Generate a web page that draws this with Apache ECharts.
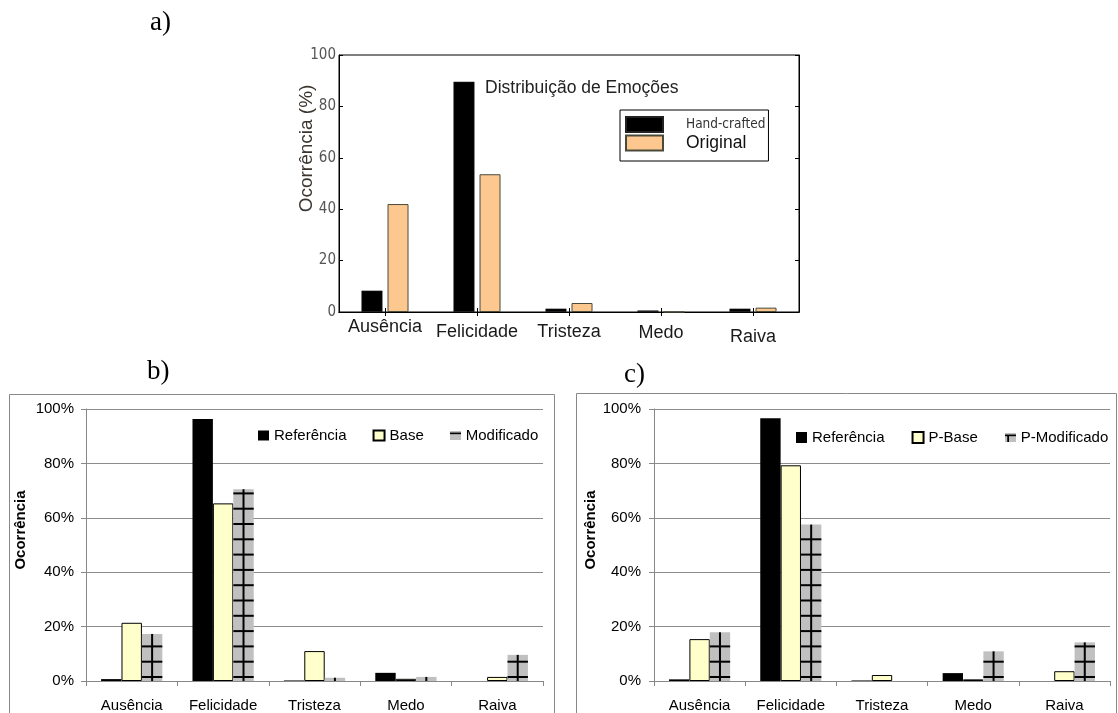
<!DOCTYPE html>
<html><head><meta charset="utf-8">
<script src="https://cdn.jsdelivr.net/npm/echarts@6/dist/echarts.min.js"></script>
<style>html,body{margin:0;padding:0;background:#fff}#c{width:1118px;height:713px}</style>
</head><body><div id="c"></div>
<script>
// ---- data ----
const categories = ['Ausência', 'Felicidade', 'Tristeza', 'Medo', 'Raiva'];
const aLabelShift = [0, 5, 5, 6, 10];
const aHandCrafted = [8.3, 89.6, 1.3, 0.6, 1.3];
const aOriginal = [42.0, 53.6, 3.5, 0, 1.7];
const bReferencia = [0.7, 96.3, 0.2, 3.0, 0];
const bBase = [21.4, 65.3, 11.0, 0.8, 1.5];
const bModificado = [17.3, 70.5, 1.2, 1.5, 9.6];
const cReferencia = [0.6, 96.6, 0.2, 2.9, 0];
const cPBase = [15.4, 79.3, 2.2, 0.6, 3.6];
const cPModificado = [17.9, 57.5, 0, 10.9, 14.2];
const yMin = 0, yMax = 100, yStep = 20;

const SANS = "'Liberation Sans', Arial, sans-serif";
const NARROW = "'Liberation Sans Narrow', 'DejaVu Sans Condensed', 'Liberation Sans', sans-serif";
const SERIF = "'Liberation Serif', 'Times New Roman', serif";
const GAP = 0.33;

function hatchIcon(withVertical) {
  const cv = document.createElement('canvas');
  cv.width = 13; cv.height = 11;
  const g = cv.getContext('2d');
  g.fillStyle = '#c0c0c0'; g.fillRect(0, 0, 13, 11);
  g.fillStyle = '#000';
  g.fillRect(0, 2, 13, 2);
  if (withVertical) g.fillRect(3, 2, 2, 9);
  return 'image://' + cv.toDataURL();
}

function hatchSeries(vals, xi, yi) {
  return {
    type: 'custom', xAxisIndex: xi, yAxisIndex: yi, silent: true, z: 5,
    data: vals.map((v, i) => [i, v]),
    renderItem: function (params, api) {
      const idx = api.value(0), v = api.value(1);
      const top = api.coord([idx, v]);
      const base = api.coord([idx, 0]);
      const band = api.size([1, 0])[0];
      const bw = band * (1 - GAP) / 3;
      const x0 = top[0] + bw / 2, x1 = top[0] + 1.5 * bw, xc = top[0] + bw;
      const ch = [];
      if (base[1] - top[1] < 0.5) return { type: 'group', children: [] };
      ch.push({ type: 'line', shape: { x1: xc, y1: top[1], x2: xc, y2: base[1] }, style: { stroke: '#000', lineWidth: 2 } });
      for (let y = base[1] - 4; y > top[1] + 1; y -= 15.3) {
        ch.push({ type: 'line', shape: { x1: x0, y1: y, x2: x1, y2: y }, style: { stroke: '#000', lineWidth: 2 } });
      }
      return { type: 'group', children: ch };
    }
  };
}

function catAxis(gi) {
  return {
    type: 'category', gridIndex: gi, data: categories,
    axisLine: { show: true, lineStyle: { color: '#888', width: 1 } },
    axisTick: { show: true, length: 5, lineStyle: { color: '#888' } },
    axisLabel: { interval: 0, fontFamily: SANS, fontSize: 15, color: '#000', margin: 17 }
  };
}
function pctAxis(gi, nameGap, labelMargin) {
  return {
    type: 'value', gridIndex: gi, min: yMin, max: yMax, interval: yStep,
    name: 'Ocorrência', nameLocation: 'middle', nameGap: nameGap,
    nameTextStyle: { fontFamily: SANS, fontSize: 15, fontWeight: 'bold', color: '#000', padding: [0, 0, 0, 30] },
    axisLine: { show: true, lineStyle: { color: '#888' } },
    axisTick: { show: true, length: 5, lineStyle: { color: '#888' } },
    axisLabel: { formatter: '{value}%', fontFamily: SANS, fontSize: 15, color: '#000', margin: labelMargin },
    splitLine: { show: true, lineStyle: { color: '#8c8c8c', width: 1 } }
  };
}

const option = {
  animation: false,
  backgroundColor: '#fff',
  title: [
    { text: 'a)', left: 150, top: 9, padding: 0, textStyle: { fontFamily: SERIF, fontSize: 27, fontWeight: 'normal', color: '#000' } },
    { text: 'b)', left: 147, top: 358, padding: 0, textStyle: { fontFamily: SERIF, fontSize: 27, fontWeight: 'normal', color: '#000' } },
    { text: 'c)', left: 624, top: 361, padding: 0, textStyle: { fontFamily: SERIF, fontSize: 27, fontWeight: 'normal', color: '#000' } },
    { text: 'Distribuição de Emoções', left: 485, top: 79, padding: 0, textStyle: { fontFamily: SANS, fontSize: 17.5, fontWeight: 'normal', color: '#222' } }
  ],
  graphic: [
    { type: 'rect', shape: { x: 9.5, y: 394.5, width: 545, height: 340 }, style: { fill: 'none', stroke: '#888', lineWidth: 1 }, silent: true },
    { type: 'rect', shape: { x: 576.5, y: 393.5, width: 540, height: 340 }, style: { fill: 'none', stroke: '#888', lineWidth: 1 }, silent: true }
  ],
  legend: [
    {
      orient: 'vertical', left: 620, top: 110, itemWidth: 37, itemHeight: 15, itemGap: 1, icon: 'rect',
      borderColor: '#000', borderWidth: 1, padding: [6, 3, 9, 5],
      textStyle: { padding: [0, 0, 0, 18], fontFamily: SANS, color: '#111' },
      data: [
        { name: 'Hand-crafted', textStyle: { fontFamily: NARROW, fontSize: 13.5, color: '#333' } },
        { name: 'Original', textStyle: { fontFamily: SANS, fontSize: 17.5, color: '#111' } }
      ]
    },
    {
      orient: 'horizontal', left: 258, top: 428, width: 320, padding: 0, itemWidth: 11, itemHeight: 10, itemGap: 26, icon: 'rect',
      textStyle: { fontFamily: SANS, fontSize: 15, color: '#000' },
      data: ['Referência', 'Base', { name: 'Modificado', icon: hatchIcon(false) }]
    },
    {
      orient: 'horizontal', left: 796, top: 430, width: 330, padding: 0, itemWidth: 11, itemHeight: 11, itemGap: 27, icon: 'rect',
      textStyle: { fontFamily: SANS, fontSize: 15, color: '#000' },
      data: ['Referência', 'P-Base', { name: 'P-Modificado', icon: hatchIcon(true) }]
    }
  ],
  grid: [
    { left: 339, top: 55, width: 460, height: 257, show: true, borderColor: '#000', borderWidth: 1 },
    { left: 86, top: 409, width: 457, height: 272 },
    { left: 654, top: 409, width: 456, height: 272 }
  ],
  xAxis: [
    {
      type: 'category', gridIndex: 0,
      data: categories.map((c, i) => ({ value: c, textStyle: { padding: [aLabelShift[i], 0, 0, 0] } })),
      axisLine: { show: true, lineStyle: { color: '#000' } },
      axisTick: { show: true, inside: true, alignWithLabel: true, length: 4, lineStyle: { color: '#000' } },
      axisLabel: { interval: 0, fontFamily: SANS, fontSize: 18, color: '#1a1a1a', margin: 6 }
    },
    {
      type: 'category', gridIndex: 0, position: 'top', data: categories,
      axisLine: { show: true, lineStyle: { color: '#000' } },
      axisTick: { show: true, inside: true, alignWithLabel: true, interval: 0, length: 4, lineStyle: { color: '#000' } },
      axisLabel: { show: false }
    },
    catAxis(1),
    catAxis(2)
  ],
  yAxis: [
    {
      type: 'value', gridIndex: 0, min: yMin, max: yMax, interval: yStep,
      name: 'Ocorrência (%)', nameLocation: 'middle', nameGap: 23, nameMoveOverlap: false,
      nameTextStyle: { fontFamily: SANS, fontSize: 19, color: '#3b3530', padding: [0, 0, 0, 70] },
      axisLine: { show: true, lineStyle: { color: '#000' } },
      axisTick: { show: true, inside: true, length: 4, lineStyle: { color: '#000' } },
      axisLabel: { fontFamily: NARROW, fontSize: 15, color: '#555', margin: 3 },
      splitLine: { show: false }
    },
    {
      type: 'value', gridIndex: 0, position: 'right', min: yMin, max: yMax, interval: yStep,
      axisLine: { show: true, lineStyle: { color: '#000' } },
      axisTick: { show: true, inside: true, length: 4, lineStyle: { color: '#000' } },
      axisLabel: { show: false }, splitLine: { show: false }
    },
    pctAxis(1, 58, 12),
    pctAxis(2, 55, 13)
  ],
  series: [
    { name: 'Hand-crafted', type: 'bar', xAxisIndex: 0, yAxisIndex: 0, data: aHandCrafted, barWidth: 21, barGap: '24%',
      itemStyle: { color: '#000', borderColor: '#222', borderWidth: 0.5 } },
    { name: 'Original', type: 'bar', xAxisIndex: 0, yAxisIndex: 0, data: aOriginal, barWidth: 21,
      itemStyle: { color: '#fdc790', borderColor: '#4a4a3a', borderWidth: 1 } },

    { name: 'Referência', type: 'bar', xAxisIndex: 2, yAxisIndex: 2, data: bReferencia, barGap: 0, barCategoryGap: (GAP * 100) + '%',
      itemStyle: { color: '#000' } },
    { name: 'Base', type: 'bar', xAxisIndex: 2, yAxisIndex: 2, data: bBase,
      itemStyle: { color: '#ffffcc', borderColor: '#000', borderWidth: 1 } },
    { name: 'Modificado', type: 'bar', xAxisIndex: 2, yAxisIndex: 2, data: bModificado,
      itemStyle: { color: '#c0c0c0' } },
    hatchSeries(bModificado, 2, 2),

    { name: 'Referência', type: 'bar', xAxisIndex: 3, yAxisIndex: 3, data: cReferencia, barGap: 0, barCategoryGap: (GAP * 100) + '%',
      itemStyle: { color: '#000' } },
    { name: 'P-Base', type: 'bar', xAxisIndex: 3, yAxisIndex: 3, data: cPBase,
      itemStyle: { color: '#ffffcc', borderColor: '#000', borderWidth: 1 } },
    { name: 'P-Modificado', type: 'bar', xAxisIndex: 3, yAxisIndex: 3, data: cPModificado,
      itemStyle: { color: '#c0c0c0' } },
    hatchSeries(cPModificado, 3, 3)
  ]
};
const chart = echarts.init(document.getElementById('c'), null, { renderer: 'canvas' });
chart.setOption(option);
</script>
</body></html>
